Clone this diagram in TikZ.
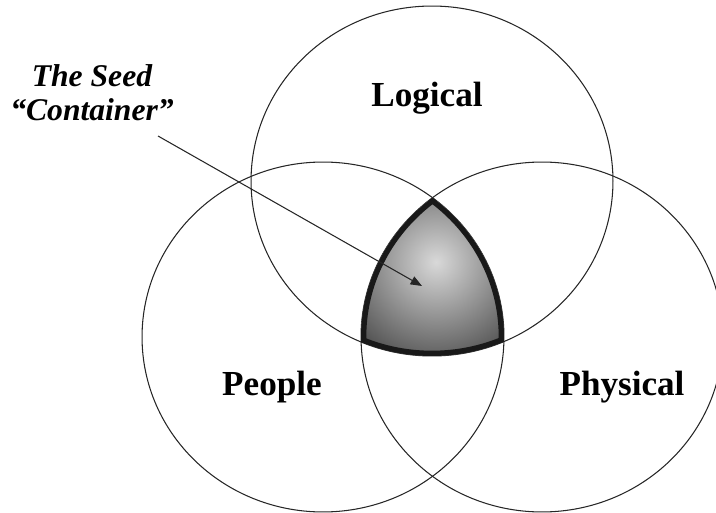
\documentclass[tikz,border=0pt]{standalone}
\usepackage{fontspec}
\setmainfont{Liberation Serif}
\usetikzlibrary{arrows.meta}

\begin{document}
\begin{tikzpicture}[
    x=0.02cm, y=-0.02cm,
    ring/.style={line width=0.6pt, black!85},
    title/.style={font=\fontsize{20}{24}\selectfont\bfseries, anchor=base},
    note/.style={font=\fontsize{18}{19.3}\selectfont\bfseries\itshape, align=center},
    pointer/.style={line width=0.6pt, black!85, -{Triangle[length=6.5pt, width=5pt]}},
  ]
    \useasboundingbox (0,0) rectangle (716,513);
    % centres of the three sets
    \coordinate (cLog) at (432,181);
    \coordinate (cPeo) at (323,337);
    \coordinate (cPhy) at (542,337);
    % the three circles
    \foreach \c in {cLog,cPeo,cPhy}
      \draw[ring] (\c) ellipse [x radius=3.62cm, y radius=3.5cm];
    % shaded seed region with heavy border
    \begin{scope}
      \clip (cLog) ellipse [x radius=3.62cm, y radius=3.5cm];
      \clip (cPeo) ellipse [x radius=3.62cm, y radius=3.5cm];
      \clip (cPhy) ellipse [x radius=3.62cm, y radius=3.5cm];
      \shade[inner color=gray!30, outer color=black!80] (436,262) circle (2.6cm);
      \foreach \c in {cLog,cPeo,cPhy}
        \draw[line width=6pt, black!90] (\c) ellipse [x radius=3.62cm, y radius=3.5cm];
    \end{scope}
    % labels
    \node[title] (logical)  at (427,107) {Logical};
    \node[title] (people)   at (272,395) {People};
    \node[title] (physical) at (622,395) {Physical};
    \node[note]  (seed)     at (92,93) {The Seed\\“Container”};
    % pointer into the seed
    \coordinate (tail) at (158,136);
    \coordinate (tip)  at (422,286);
    \draw[pointer] (tail) -- (tip);
  \end{tikzpicture}
\end{document}
